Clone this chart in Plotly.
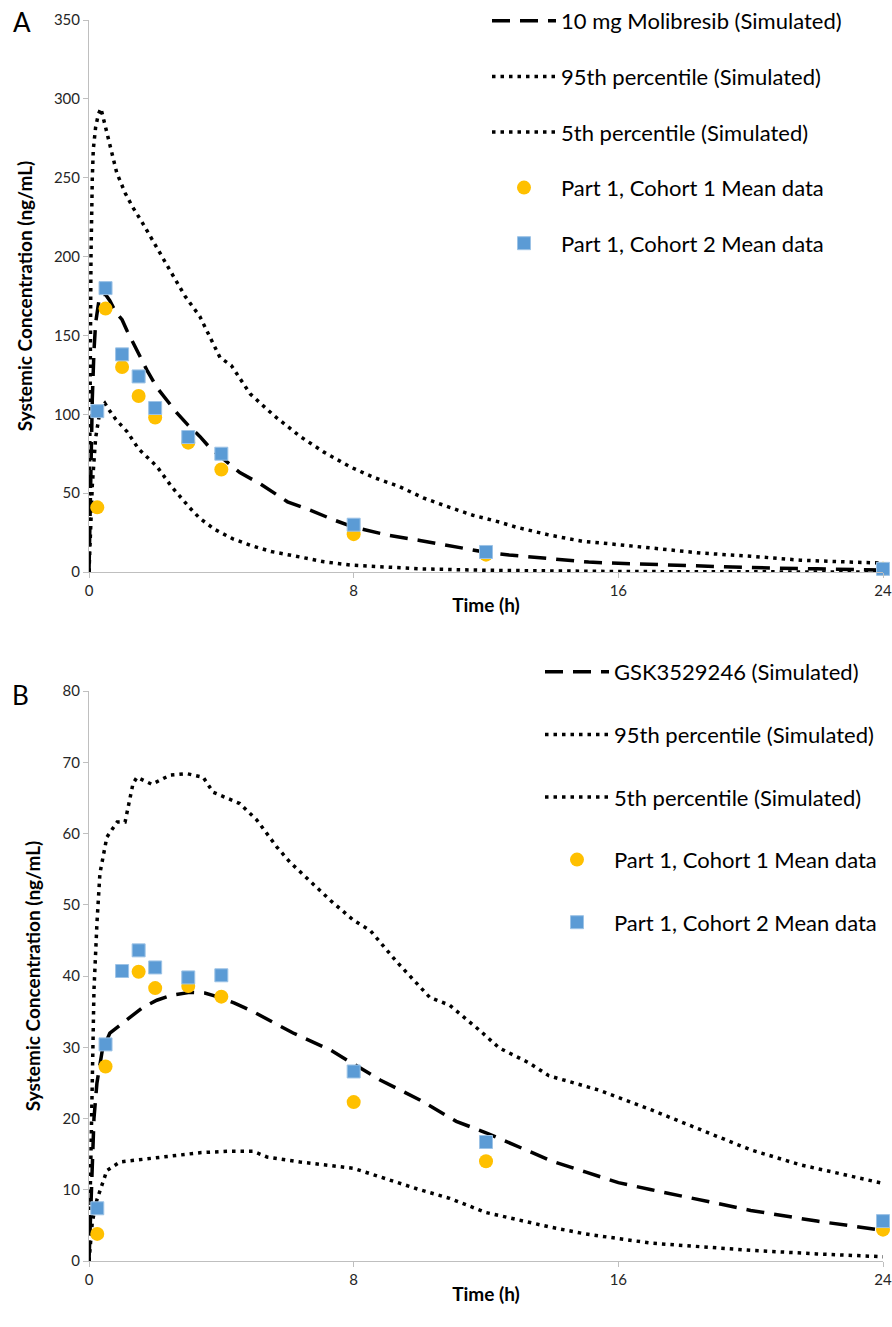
import plotly.graph_objects as go
from plotly.subplots import make_subplots

FONT = "Lato"

# ---------------- Panel A: Molibresib ----------------
a_sim_t = [0, 0.05, 0.1, 0.15, 0.2, 0.3, 0.4, 0.5, 0.63, 0.8, 1.0, 1.15, 1.45, 1.75, 2.05, 2.65, 3.0, 3.35,
           3.66, 3.87, 4.56, 5.17, 6.0, 6.68, 7.4, 8.0, 8.4, 9.0, 10.0, 11.4, 12.0, 12.7, 14.0, 15.1, 16.0,
           18.0, 20.0, 22.0, 24.0]
a_mean = [0, 60, 110, 140, 158, 172, 176, 176, 172, 165, 160, 153, 140, 128, 117, 101, 93, 86,
          78.6, 75, 63, 56, 44.5, 39.3, 33, 28.5, 26.6, 23.5, 20, 15, 12.5, 10.8, 8.2, 6.3, 5.5,
          3.9, 2.8, 2.0, 1.3]

a_p95_t = [0, 0.03, 0.06, 0.1, 0.13, 0.2, 0.28, 0.36, 0.45, 0.54, 0.7, 0.84, 1.1, 1.33, 1.6, 1.94, 2.4,
           2.9, 3.35, 3.96, 4.3, 4.87, 5.6, 6.38, 7.1, 7.9, 8.6, 9.4, 10.1, 10.9, 11.6, 12.4, 12.9, 13.9,
           14.9, 15.5, 17.0, 18.5, 20.0, 21.5, 23.0, 24.0]
a_p95 = [0, 120, 200, 250, 268, 282, 290, 294, 286, 279, 265, 253, 240, 231, 222, 210, 193,
         175, 162, 136, 131, 113, 99, 86, 76, 66.6, 60, 54, 47, 41, 36, 31.7, 28.5, 23.5,
         19.5, 18.4, 15, 12, 10, 7.5, 6.3, 5.7]

a_p5_t = [0, 0.05, 0.1, 0.2, 0.3, 0.4, 0.48, 0.6, 0.8, 1.15, 1.5, 2.05, 2.5, 3.05, 3.35, 3.8, 4.35,
          4.87, 5.5, 6.38, 7.1, 7.9, 9, 10, 12, 14, 16, 20, 24]
a_p5 = [0, 30, 55, 85, 98, 105, 107, 103, 97, 89, 78, 67, 54, 40.6, 34, 27, 21,
        17, 13, 9.5, 6.5, 4.4, 3, 2, 1.1, 0.6, 0.3, 0.1, 0]

a_obs_t = [0.25, 0.5, 1, 1.5, 2, 3, 4, 8, 12, 24]
a_coh1 = [41, 167, 130, 111.6, 98, 82, 65, 24, 11, 2]
a_coh2 = [102, 180, 138, 124, 104, 85.6, 75, 30, 12.7, 2]

# ---------------- Panel B: GSK3529246 ----------------
b_sim_t = [0, 0.05, 0.1, 0.15, 0.24, 0.4, 0.63, 0.9, 1.15, 1.6, 2.05, 2.5, 3.05, 3.5, 3.87, 4.4, 4.96,
           5.77, 6.17, 7.3, 8.0, 8.8, 10.0, 11.1, 12.0, 13.0, 14.0, 15.0, 16.0, 17.0, 18.5, 20.0,
           22.0, 24.0]
b_mean = [0, 8, 15, 20, 25, 29.5, 32, 33, 33.8, 35.5, 36.6, 37.3, 37.7, 37.6, 37.1, 36.2, 35,
          33, 32, 29.6, 27.6, 25.4, 22.6, 19.6, 18, 16, 14, 12.5, 11, 10, 8.5, 7.1,
          5.6, 4.3]

b_p95_t = [0, 0.05, 0.1, 0.15, 0.24, 0.33, 0.54, 0.85, 1.09, 1.18, 1.33, 1.45, 1.9, 2.45, 2.96, 3.45,
           3.75, 4.56, 5.07, 5.68, 6.07, 7.3, 8.0, 8.5, 9.3, 10.3, 10.9, 11.8, 12.4, 13.3, 13.9, 15.4,
           17.0, 20.0, 21.5, 24.0]
b_p95 = [0, 15, 28, 38, 47.4, 54.4, 59.5, 61.6, 61.6, 63.7, 67, 67.9, 66.9, 68.2, 68.4, 67.9,
         65.8, 64.2, 61.9, 58.1, 56.0, 50.6, 47.8, 46.4, 42, 37, 35.9, 32.4, 29.9, 27.8, 26, 24,
         21.2, 15.6, 13.5, 10.9]

b_p5_t = [0, 0.05, 0.1, 0.24, 0.54, 0.94, 1.5, 2.15, 3.35, 4.2, 4.96, 5.38, 6.38, 7.3, 8.0, 9.0, 10.0,
          10.9, 12.0, 13.9, 15.0, 17.0, 20.0, 22.0, 24.0]
b_p5 = [0, 3, 5.5, 8.6, 12.7, 13.9, 14.2, 14.6, 15.2, 15.4, 15.4, 14.6, 13.9, 13.4, 13, 11.5, 10,
        8.8, 6.8, 4.8, 3.8, 2.5, 1.5, 1.0, 0.6]

b_obs_t = [0.25, 0.5, 1, 1.5, 2, 3, 4, 8, 12, 24]
b_coh1 = [3.8, 27.3, None, 40.6, 38.3, 38.6, 37.1, 22.3, 14.0, 4.4]
b_coh2 = [7.4, 30.4, 40.7, 43.6, 41.2, 39.8, 40.1, 26.6, 16.7, 5.6]

x_ticks = [0, 8, 16, 24]

GOLD = "#FFC000"
BLUE = "#5B9BD5"

W, H = 892, 1327
M_L, M_R, M_T, M_B = 89, 9, 0, 66
H_PLOT = float(H - M_T - M_B)  # 1261
W_PLOT = float(W - M_L - M_R)  # 794

def py(px):  # figure pixel (from top) -> paper y
    return (H_PLOT - (px - M_T)) / H_PLOT

def px_(x):  # figure pixel (from left) -> paper x
    return (x - M_L) / W_PLOT

fig = make_subplots(rows=2, cols=1, vertical_spacing=0.0)

def add_panel(row, legend, name_mean, st, mean, t95, p95, t5, p5, ot, c1, c2):
    fig.add_trace(go.Scatter(x=st, y=mean, mode="lines", name=name_mean,
                             line=dict(color="black", width=3.5, dash="18px,10px"),
                             legend=legend, legendgroup=legend + "a"), row=row, col=1)
    fig.add_trace(go.Scatter(x=t95, y=p95, mode="lines", name="95th percentile (Simulated)",
                             line=dict(color="black", width=3.5, dash="3.5px,5px"),
                             legend=legend, legendgroup=legend + "b"), row=row, col=1)
    fig.add_trace(go.Scatter(x=t5, y=p5, mode="lines", name="5th percentile (Simulated)",
                             line=dict(color="black", width=3.5, dash="3.5px,5px"),
                             legend=legend, legendgroup=legend + "c"), row=row, col=1)
    fig.add_trace(go.Scatter(x=ot, y=c1, mode="markers", name="Part 1, Cohort 1 Mean data",
                             marker=dict(symbol="circle", size=14, color=GOLD, line=dict(width=0)),
                             cliponaxis=False, legend=legend, legendgroup=legend + "d"), row=row, col=1)
    fig.add_trace(go.Scatter(x=ot, y=c2, mode="markers", name="Part 1, Cohort 2 Mean data",
                             marker=dict(symbol="square", size=13, color=BLUE,
                                         line=dict(width=1, color="#9DC3E6")),
                             cliponaxis=False, legend=legend, legendgroup=legend + "e"), row=row, col=1)

add_panel(1, "legend", "10 mg Molibresib (Simulated)", a_sim_t, a_mean, a_p95_t, a_p95,
          a_p5_t, a_p5, a_obs_t, a_coh1, a_coh2)
add_panel(2, "legend2", "GSK3529246 (Simulated)", b_sim_t, b_mean, b_p95_t, b_p95,
          b_p5_t, b_p5, b_obs_t, b_coh1, b_coh2)

axis_common = dict(showline=True, linecolor="#BFBFBF", linewidth=1, ticks="outside",
                   ticklen=5, tickcolor="#BFBFBF", showgrid=False, zeroline=False,
                   automargin=False,
                   tickfont=dict(family=FONT, size=15, color="#262626"))

xt = dict(text="<b>Time (h)</b>", font=dict(family=FONT, size=19, color="black"), standoff=0)
yt = dict(text="<b>Systemic Concentration (ng/mL)</b>", font=dict(family=FONT, size=19, color="black"),
          standoff=16)

fig.update_xaxes(range=[0, 24], tickvals=x_ticks, title=xt, **axis_common)
fig.update_yaxes(title=yt, **axis_common)
fig.update_yaxes(range=[0, 350], dtick=50, domain=[py(572), py(20)], row=1, col=1)
fig.update_yaxes(range=[0, 80], dtick=10, domain=[0.0, py(691)], row=2, col=1)

legend_common = dict(bgcolor="rgba(0,0,0,0)", font=dict(family=FONT, size=22, color="black"),
                     xanchor="left", yanchor="top", itemwidth=64, traceorder="grouped")
fig.update_layout(
    width=W, height=H,
    margin=dict(l=M_L, r=M_R, t=M_T, b=M_B, autoexpand=False),
    paper_bgcolor="white", plot_bgcolor="white",
    font=dict(family=FONT, color="black"),
    legend=dict(x=px_(487), y=py(0), tracegroupgap=24, **legend_common),
    legend2=dict(x=px_(540), y=py(651), tracegroupgap=31, **legend_common),
    annotations=[
        dict(text="A", xref="paper", yref="paper", x=px_(11), y=py(22),
             xanchor="left", yanchor="middle",
             showarrow=False, font=dict(family=FONT, size=26, color="black")),
        dict(text="B", xref="paper", yref="paper", x=px_(10), y=py(695),
             xanchor="left", yanchor="middle",
             showarrow=False, font=dict(family=FONT, size=26, color="black")),
    ],
)

fig.write_html("out.html",
               config={"displayModeBar": False},
               post_script="document.body.style.margin='0px';document.body.style.overflow='hidden';")
